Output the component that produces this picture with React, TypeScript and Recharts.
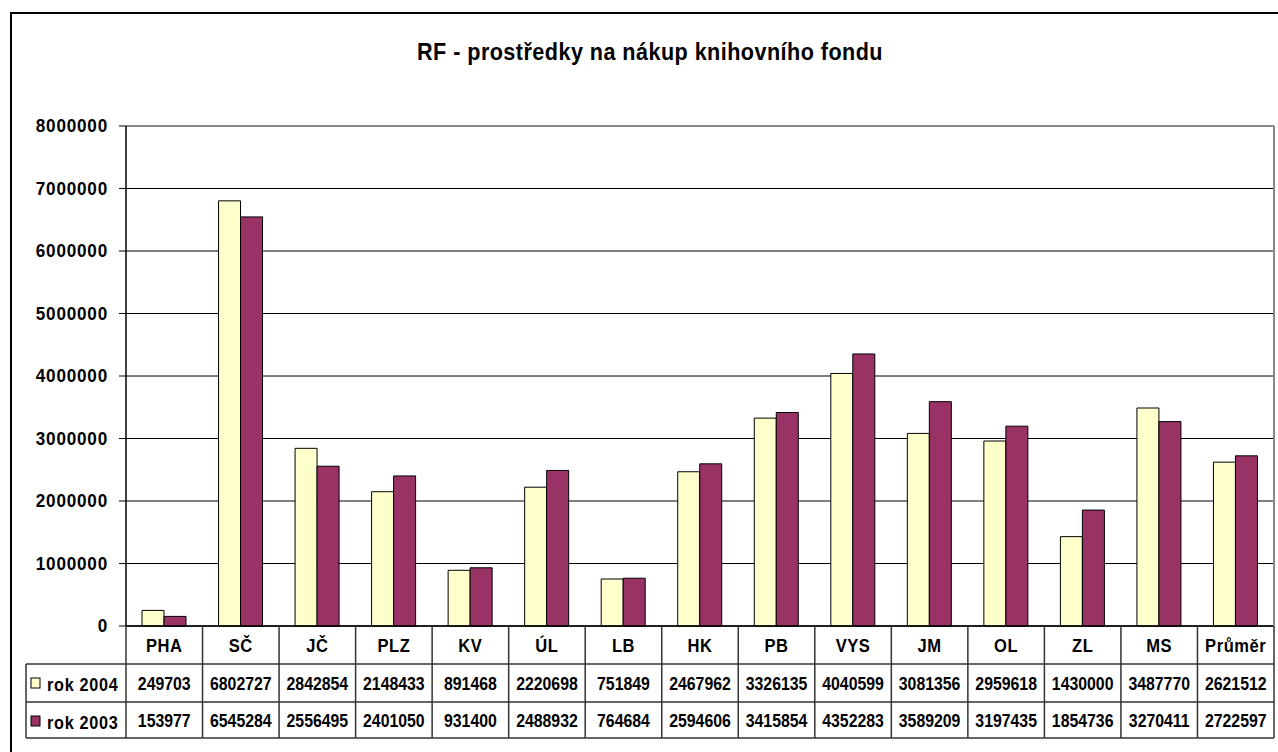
import React from 'react';
import { BarChart, Bar, XAxis, YAxis, CartesianGrid, ReferenceLine } from 'recharts';

const CATEGORIES = ['PHA', 'SČ', 'JČ', 'PLZ', 'KV', 'ÚL', 'LB', 'HK', 'PB', 'VYS', 'JM', 'OL', 'ZL', 'MS', 'Průměr'];
const ROK_2004 = [249703, 6802727, 2842854, 2148433, 891468, 2220698, 751849, 2467962, 3326135, 4040599, 3081356, 2959618, 1430000, 3487770, 2621512];
const ROK_2003 = [153977, 6545284, 2556495, 2401050, 931400, 2488932, 764684, 2594606, 3415854, 4352283, 3589209, 3197435, 1854736, 3270411, 2722597];
const Y_TICKS = [0, 1000000, 2000000, 3000000, 4000000, 5000000, 6000000, 7000000, 8000000];
const SERIES = ['rok 2004', 'rok 2003'];

const data = CATEGORIES.map((name, i) => ({ name, r2004: ROK_2004[i], r2003: ROK_2003[i] }));

const FONT = '"Liberation Sans", Arial, sans-serif';
const YELLOW = '#FFFFCC';
const PURPLE = '#993366';

// layout of the plot area and the data table under it
const PLOT_LEFT = 126;
const PLOT_RIGHT = 1274;
const PLOT_TOP = 126;
const PLOT_BOTTOM = 626;
const BAND = (PLOT_RIGHT - PLOT_LEFT) / CATEGORIES.length;
const ROW_1 = 664;
const ROW_2 = 702;
const TABLE_BOTTOM = 738;
const LEGEND_LEFT = 26;
const LINE = '#333';

const txt = { fontFamily: FONT, fontWeight: 700, fill: '#000' } as const;

// bold text squeezed a bit horizontally, like the narrow Excel font
function Narrow({ x, y, size, sx = 0.88, anchor = 'middle', spacing = 0, children }: any) {
  return (
    <text transform={`translate(${x},${y}) scale(${sx},1)`} textAnchor={anchor} fontSize={size} letterSpacing={spacing} {...txt}>
      {children}
    </text>
  );
}

function ValueTick(props: any) {
  const { x, y, payload } = props;
  return <Narrow x={x} y={y + 6} size={19} sx={0.9} anchor="end" spacing={0.9}>{payload.value}</Narrow>;
}

function CategoryTick(props: any) {
  const { x, payload } = props;
  const i = CATEGORIES.indexOf(payload.value);
  const half = BAND / 2;
  return (
    <g>
      <Narrow x={x} y={652} size={18} sx={0.92} spacing={0.6}>{payload.value}</Narrow>
      <Narrow x={x} y={690} size={18} sx={0.88}>{ROK_2004[i]}</Narrow>
      <Narrow x={x} y={727} size={18} sx={0.88}>{ROK_2003[i]}</Narrow>
      <line x1={x + half} y1={PLOT_BOTTOM} x2={x + half} y2={TABLE_BOTTOM} stroke={LINE} strokeWidth={1.5} />
      {[ROW_1, ROW_2, TABLE_BOTTOM].map((y) => (
        <line key={y} x1={x - half} y1={y} x2={x + half} y2={y} stroke={LINE} strokeWidth={1.5} />
      ))}
      {i === CATEGORIES.length - 1 && (
        <line x1={x + half} y1={PLOT_TOP} x2={x + half} y2={PLOT_BOTTOM} stroke="#888" strokeWidth={2} />
      )}
      {i === 0 && (
        <g>
          <line x1={PLOT_LEFT} y1={PLOT_BOTTOM} x2={PLOT_LEFT} y2={TABLE_BOTTOM} stroke={LINE} strokeWidth={1.5} />
          <line x1={LEGEND_LEFT} y1={ROW_1} x2={LEGEND_LEFT} y2={TABLE_BOTTOM} stroke={LINE} strokeWidth={1.5} />
          {[ROW_1, ROW_2, TABLE_BOTTOM].map((y) => (
            <line key={y} x1={LEGEND_LEFT} y1={y} x2={PLOT_LEFT} y2={y} stroke={LINE} strokeWidth={1.5} />
          ))}
          {SERIES.map((s, k) => {
            const top = k === 0 ? ROW_1 : ROW_2;
            return (
              <g key={s}>
                <rect x={31} y={top + 14} width={9} height={10} fill={k === 0 ? YELLOW : PURPLE} stroke="#000" strokeWidth={1} />
                <Narrow x={47} y={top + 27} size={18} sx={0.9} anchor="start" spacing={0.8}>{s}</Narrow>
              </g>
            );
          })}
        </g>
      )}
    </g>
  );
}

export default function App() {
  return (
    <div style={{ position: 'absolute', left: 0, top: 0, width: 1278, height: 752, overflow: 'hidden', background: '#fff' }}>
      {/* chart frame, runs off the page at right and bottom */}
      <div style={{ position: 'absolute', left: 10, top: 12, width: 1300, height: 800, border: '2px solid #000' }} />
      <div style={{ position: 'absolute', left: 0, top: 0 }}>
        <BarChart
          width={1278}
          height={752}
          data={data}
          margin={{ top: PLOT_TOP, right: 1278 - PLOT_RIGHT, left: 10, bottom: 752 - TABLE_BOTTOM }}
          barCategoryGap="20%"
          barGap={0}
        >
          <CartesianGrid vertical={false} stroke="#000" strokeWidth={1} />
          <XAxis
            dataKey="name"
            interval={0}
            height={TABLE_BOTTOM - PLOT_BOTTOM}
            tickLine={false}
            axisLine={{ stroke: '#000', strokeWidth: 1.5 }}
            tick={<CategoryTick />}
          />
          <YAxis
            width={116}
            domain={[0, 8000000]}
            ticks={Y_TICKS}
            interval={0}
            tickSize={7}
            tickMargin={11}
            tickLine={{ stroke: '#000' }}
            axisLine={{ stroke: '#000', strokeWidth: 1.5 }}
            tick={<ValueTick />}
          />
          <ReferenceLine y={8000000} stroke="#888" strokeWidth={2} />
          <Bar dataKey="r2004" name="rok 2004" fill={YELLOW} stroke="#000" strokeWidth={1} barSize={22} isAnimationActive={false} />
          <Bar dataKey="r2003" name="rok 2003" fill={PURPLE} stroke="#000" strokeWidth={1} barSize={22} isAnimationActive={false} />
          <text transform="translate(650,60) scale(0.9,1)" textAnchor="middle" fontSize={24} letterSpacing={0.5} {...txt}>
            RF - prostředky na nákup knihovního fondu
          </text>
        </BarChart>
      </div>
    </div>
  );
}
